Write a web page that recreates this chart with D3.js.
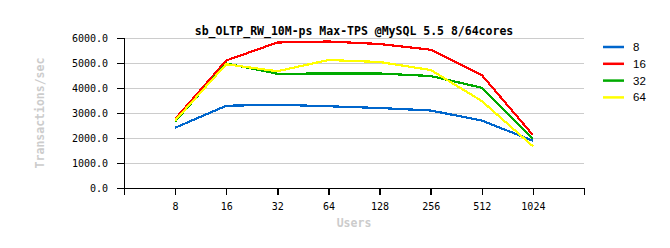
<!DOCTYPE html>
<html>
<head>
<meta charset="utf-8">
<script src="https://cdn.jsdelivr.net/npm/d3@7"></script>
<style>
  body { margin: 0; background: #fff; }
  svg text { font-family: "DejaVu Sans Mono", monospace; }
</style>
</head>
<body>
<div id="chart"></div>
<script>
// users on x axis
var users = ["8", "16", "32", "64", "128", "256", "512", "1024"];
// TPS per series (8/16/32/64)
var s8  = [2410, 3290, 3330, 3270, 3200, 3100, 2700, 1890];
var s16 = [2760, 5100, 5820, 5860, 5760, 5530, 4520, 2120];
var s32 = [2660, 4980, 4570, 4580, 4580, 4480, 4010, 1970];
var s64 = [2700, 4950, 4670, 5120, 5040, 4720, 3480, 1670];
var seriesNames = ["8", "16", "32", "64"];
var colors = ["#0066cc", "#ff0000", "#00aa00", "#ffff00"];
var yTicks = [0, 1000, 2000, 3000, 4000, 5000, 6000];

function draw() {
  var w = 670, h = 248;
  var pLeft = 124, pRight = 584, pTop = 38, pBottom = 188;

  var svg = d3.select("#chart").append("svg")
              .attr("width", w)
              .attr("height", h);

  var x = d3.scalePoint().domain(users).range([pLeft, pRight]).padding(1);
  var y = d3.scaleLinear().domain([0, 6000]).range([pBottom, pTop]);

  // grid
  svg.append("g")
     .selectAll("line")
     .data(yTicks.slice(1))
     .enter()
     .append("line")
     .attr("x1", pLeft).attr("x2", pRight)
     .attr("y1", function(d) { return y(d) + 0.5; })
     .attr("y2", function(d) { return y(d) + 0.5; })
     .attr("stroke", "#cccccc")
     .attr("shape-rendering", "crispEdges");

  // axes
  var xAxis = svg.append("g")
     .attr("transform", "translate(0," + pBottom + ")")
     .call(d3.axisBottom(x).tickSize(7).tickSizeOuter(7).tickPadding(8));
  var yAxis = svg.append("g")
     .attr("transform", "translate(" + pLeft + ",0)")
     .call(d3.axisLeft(y).tickValues(yTicks).tickFormat(d3.format(".1f")).tickSize(7).tickPadding(9));

  [xAxis, yAxis].forEach(function(a) {
    a.selectAll("path, line").attr("stroke", "#000").attr("stroke-width", 1.5).attr("shape-rendering", "crispEdges");
    a.selectAll("text").attr("fill", "#000").style("font-size", "10px").style("font-family", "'DejaVu Sans Mono', monospace");
  });

  // series lines
  var allSeries = [s8, s16, s32, s64];
  var line = d3.line()
               .x(function(d, i) { return x(users[i]); })
               .y(function(d) { return y(d); });

  svg.append("g")
     .selectAll("path")
     .data(allSeries)
     .enter()
     .append("path")
     .attr("d", line)
     .attr("fill", "none")
     .attr("stroke", function(d, i) { return colors[i]; })
     .attr("stroke-width", 2.2)
     .attr("shape-rendering", "crispEdges");

  // title
  svg.append("text")
     .attr("x", 354).attr("y", 35)
     .attr("text-anchor", "middle")
     .style("font-size", "11.5px")
     .style("font-weight", "bold")
     .text("sb_OLTP_RW_10M-ps Max-TPS @MySQL 5.5 8/64cores");

  // axis labels
  svg.append("text")
     .attr("x", 354).attr("y", 227)
     .attr("text-anchor", "middle")
     .attr("fill", "#cccccc")
     .style("font-size", "11.5px")
     .style("font-weight", "bold")
     .text("Users");

  svg.append("text")
     .attr("transform", "translate(44,113) rotate(-90)")
     .attr("text-anchor", "middle")
     .attr("fill", "#cccccc")
     .style("font-size", "11.5px")
     .style("font-weight", "bold")
     .text("Transactions/sec");

  // legend
  var legend = svg.append("g")
     .selectAll("g")
     .data(seriesNames)
     .enter()
     .append("g")
     .attr("transform", function(d, i) { return "translate(603," + (47 + i * 16.8) + ")"; });

  legend.append("line")
     .attr("x1", 0).attr("x2", 21)
     .attr("stroke", function(d, i) { return colors[i]; })
     .attr("stroke-width", 2.5);

  legend.append("text")
     .attr("x", 30).attr("dy", "0.35em")
     .style("font-family", "'Liberation Sans', Arial, sans-serif")
     .style("font-size", "11.5px")
     .text(function(d) { return d; });
}

window.onload = draw;
</script>
</body>
</html>
